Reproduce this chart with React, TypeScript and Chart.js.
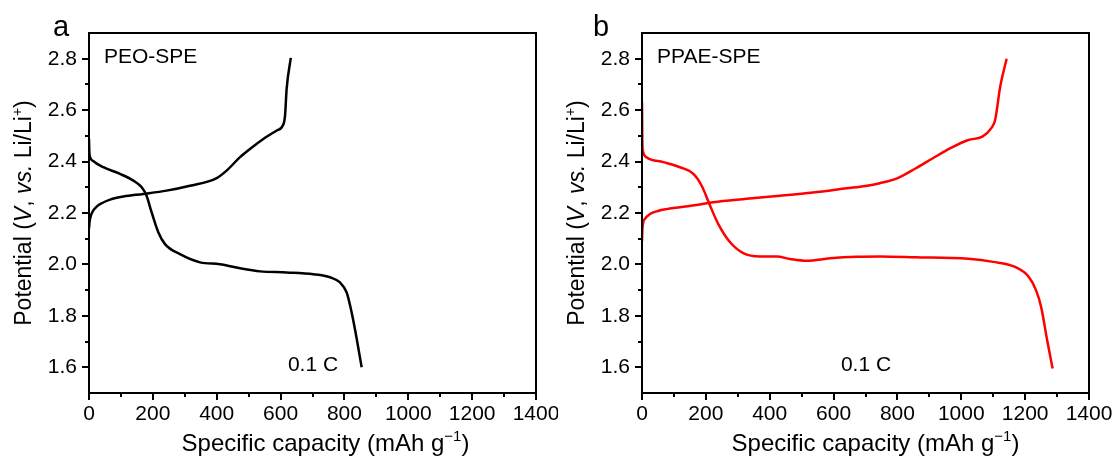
import React, { useEffect, useRef } from 'react';
import { Chart, registerables } from 'chart.js';

Chart.register(...registerables);

// ---------- tick values ----------
const xMajorTicks = [0, 200, 400, 600, 800, 1000, 1200, 1400];
const xMinorTicks = [100, 300, 500, 700, 900, 1100, 1300];
const yMajorTicks = [1.6, 1.8, 2.0, 2.2, 2.4, 2.6, 2.8];
const yMinorTicks = [1.7, 1.9, 2.1, 2.3, 2.5, 2.7];

// ---------- panel a: PEO-SPE ----------
const peoChargeX = [0, 2, 6, 13, 24, 40, 66, 108, 170, 243, 316, 400, 431, 473, 504, 546, 588, 607, 614, 619, 632];
const peoChargeY = [2.14, 2.168, 2.19, 2.209, 2.225, 2.238, 2.252, 2.264, 2.274, 2.287, 2.306, 2.336, 2.365, 2.417, 2.449, 2.488, 2.521, 2.54, 2.579, 2.683, 2.803];
const peoDischargeX = [0, 1, 4, 13, 45, 97, 139, 165, 180, 196, 217, 238, 285, 348, 410, 473, 536, 619, 703, 755, 786, 807, 818, 833, 854];
const peoDischargeY = [2.488, 2.44, 2.415, 2.402, 2.378, 2.352, 2.326, 2.3, 2.268, 2.203, 2.125, 2.079, 2.04, 2.008, 2.001, 1.985, 1.973, 1.969, 1.962, 1.95, 1.93, 1.891, 1.839, 1.748, 1.6];

// ---------- panel b: PPAE-SPE ----------
const ppaeChargeX = [0, 1, 3, 10, 25, 50, 77, 171, 223, 328, 432, 536, 641, 700, 745, 799, 855, 911, 966, 1022, 1066, 1094, 1106, 1122, 1142];
const ppaeChargeY = [2.09, 2.13, 2.158, 2.178, 2.196, 2.208, 2.215, 2.231, 2.242, 2.255, 2.267, 2.28, 2.296, 2.305, 2.316, 2.335, 2.372, 2.413, 2.452, 2.484, 2.497, 2.53, 2.562, 2.692, 2.8];
const ppaeDischargeX = [0, 1, 3, 14, 67, 119, 161, 187, 213, 239, 276, 317, 370, 422, 464, 516, 589, 672, 745, 855, 1022, 1100, 1167, 1211, 1234, 1250, 1269, 1286];
const ppaeDischargeY = [2.631, 2.48, 2.44, 2.417, 2.398, 2.378, 2.352, 2.306, 2.229, 2.157, 2.086, 2.044, 2.031, 2.031, 2.021, 2.014, 2.024, 2.03, 2.031, 2.028, 2.022, 2.01, 1.991, 1.952, 1.9, 1.835, 1.705, 1.595];

const FAM = '"Liberation Sans", Arial, Helvetica, sans-serif';

type Run = { t: string; it?: boolean; sup?: boolean };

function drawRuns(ctx: CanvasRenderingContext2D, runs: Run[], x: number, y: number, size: number, align: 'left' | 'center', rotate = false) {
  const fontOf = (r: Run) => `${r.it ? 'italic ' : ''}${r.sup ? Math.round(size * 0.62) : size}px ${FAM}`;
  const widths = runs.map((r) => {
    ctx.font = fontOf(r);
    return ctx.measureText(r.t).width;
  });
  const total = widths.reduce((a, b) => a + b, 0);
  ctx.save();
  ctx.translate(x, y);
  if (rotate) ctx.rotate(-Math.PI / 2);
  ctx.textAlign = 'left';
  ctx.textBaseline = 'alphabetic';
  ctx.fillStyle = '#000';
  let cx = align === 'center' ? -total / 2 : 0;
  runs.forEach((r, i) => {
    ctx.font = fontOf(r);
    ctx.fillText(r.t, cx, r.sup ? -size * 0.4 : 0);
    cx += widths[i];
  });
  ctx.restore();
}

type PanelProps = {
  letter: string;
  letterX: number;
  label: string;
  color: string;
  chargeX: number[];
  chargeY: number[];
  dischargeX: number[];
  dischargeY: number[];
  plotLeft: number;
  plotRight: number;
  canvasWidth: number;
  xTitleShift: number;
};

function Panel(p: PanelProps) {
  const ref = useRef<HTMLCanvasElement | null>(null);
  useEffect(() => {
    if (!ref.current) return;
    const framePlugin = {
      id: 'frame',
      afterDraw(chart: any) {
        const { ctx, chartArea, scales } = chart;
        const { left, right, top, bottom } = chartArea;
        const xs = scales.x;
        const ys = scales.y;
        ctx.save();
        ctx.strokeStyle = '#000';
        ctx.lineWidth = 2;
        ctx.strokeRect(left, top, right - left, bottom - top);
        ctx.beginPath();
        xMajorTicks.forEach((v) => {
          const px = Math.round(xs.getPixelForValue(v));
          ctx.moveTo(px, bottom);
          ctx.lineTo(px, bottom + 7);
        });
        xMinorTicks.forEach((v) => {
          const px = Math.round(xs.getPixelForValue(v));
          ctx.moveTo(px, bottom);
          ctx.lineTo(px, bottom + 4);
        });
        yMajorTicks.forEach((v) => {
          const py = Math.round(ys.getPixelForValue(v));
          ctx.moveTo(left, py);
          ctx.lineTo(left - 7, py);
        });
        yMinorTicks.forEach((v) => {
          const py = Math.round(ys.getPixelForValue(v));
          ctx.moveTo(left, py);
          ctx.lineTo(left - 4, py);
        });
        ctx.stroke();
        ctx.restore();

        // panel letter
        drawRuns(ctx, [{ t: p.letter }], p.letterX, 36, 29, 'left');
        // sample label
        drawRuns(ctx, [{ t: p.label }], left + 15, top + 30, 21, 'left');
        // rate label
        drawRuns(ctx, [{ t: '0.1 C' }], xs.getPixelForValue(623), ys.getPixelForValue(1.612) + 7, 21, 'left');
        // x title
        drawRuns(
          ctx,
          [{ t: 'Specific capacity (mAh g' }, { t: '\u22121', sup: true }, { t: ')' }],
          (left + right) / 2 + p.xTitleShift,
          451,
          24,
          'center'
        );
        // y title
        drawRuns(
          ctx,
          [
            { t: 'Potential (' },
            { t: 'V', it: true },
            { t: ', ' },
            { t: 'vs.', it: true },
            { t: ' Li/Li' },
            { t: '+', sup: true },
            { t: ')' },
          ],
          left - 58,
          (top + bottom) / 2,
          23,
          'center',
          true
        );
      },
    };

    const mk = (xs: number[], ys: number[]) => xs.map((x, i) => ({ x, y: ys[i] }));
    const tickFont = { family: FAM, size: 21 };

    const chart = new Chart(ref.current, {
      type: 'line',
      data: {
        datasets: [
          {
            data: mk(p.chargeX, p.chargeY),
            borderColor: p.color,
            borderWidth: 2.5,
            pointRadius: 0,
            cubicInterpolationMode: 'monotone',
            fill: false,
          },
          {
            data: mk(p.dischargeX, p.dischargeY),
            borderColor: p.color,
            borderWidth: 2.5,
            pointRadius: 0,
            cubicInterpolationMode: 'monotone',
            fill: false,
          },
        ],
      },
      options: {
        animation: false,
        responsive: false,
        maintainAspectRatio: false,
        devicePixelRatio: 1,
        layout: { padding: { top: 33, right: p.canvasWidth - p.plotRight, bottom: 0, left: 0 } },
        plugins: { legend: { display: false }, tooltip: { enabled: false } },
        scales: {
          x: {
            type: 'linear',
            min: 0,
            max: 1400,
            afterBuildTicks: (s: any) => {
              s.ticks = xMajorTicks.map((v) => ({ value: v }));
            },
            afterFit: (s: any) => {
              s.height = 66;
              s.paddingLeft = 0;
              s.paddingRight = 0;
            },
            grid: { display: false, drawTicks: false },
            border: { display: false },
            ticks: {
              font: tickFont,
              color: '#000',
              padding: 9,
              maxRotation: 0,
              autoSkip: false,
              callback: (v: any) => String(Math.round(Number(v))),
            },
          },
          y: {
            type: 'linear',
            min: 1.5,
            max: 2.9,
            afterBuildTicks: (s: any) => {
              s.ticks = yMajorTicks.map((v) => ({ value: v }));
            },
            afterFit: (s: any) => {
              s.width = p.plotLeft;
              s.paddingTop = 0;
              s.paddingBottom = 0;
            },
            grid: { display: false, drawTicks: false },
            border: { display: false },
            ticks: {
              font: tickFont,
              color: '#000',
              padding: 12,
              autoSkip: false,
              callback: (v: any) => Number(v).toFixed(1),
            },
          },
        },
      } as any,
      plugins: [framePlugin],
    });
    return () => chart.destroy();
  }, []);
  return <canvas ref={ref} width={p.canvasWidth} height={459} style={{ display: 'block', width: p.canvasWidth, height: 459 }} />;
}

export default function App() {
  useEffect(() => {
    document.body.style.margin = '0';
    document.body.style.background = '#fff';
  }, []);
  return (
    <div style={{ display: 'flex', width: 1117, height: 459, background: '#fff', overflow: 'hidden' }}>
      <Panel
        letter="a"
        letterX={53}
        label="PEO-SPE"
        color="#000000"
        chargeX={peoChargeX}
        chargeY={peoChargeY}
        dischargeX={peoDischargeX}
        dischargeY={peoDischargeY}
        plotLeft={89}
        plotRight={536}
        canvasWidth={558}
        xTitleShift={13}
      />
      <Panel
        letter="b"
        letterX={35}
        label="PPAE-SPE"
        color="#ff0000"
        chargeX={ppaeChargeX}
        chargeY={ppaeChargeY}
        dischargeX={ppaeDischargeX}
        dischargeY={ppaeDischargeY}
        plotLeft={84}
        plotRight={531}
        canvasWidth={559}
        xTitleShift={10}
      />
    </div>
  );
}
